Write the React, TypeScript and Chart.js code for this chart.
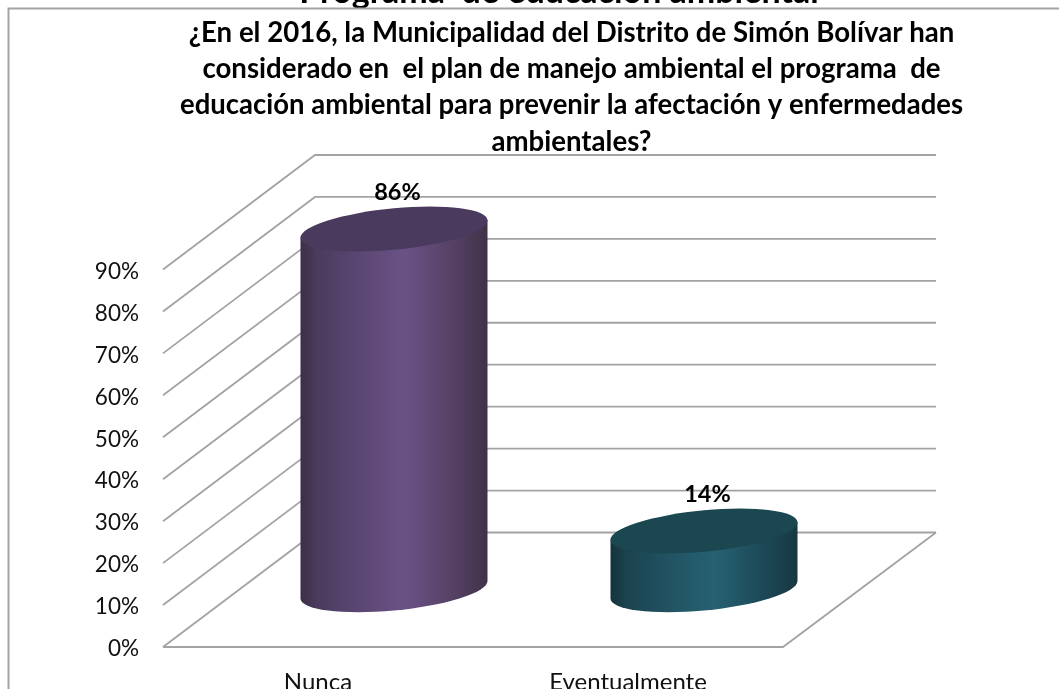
import React, { useEffect, useRef } from "react";
import { Chart, registerables } from "chart.js";

Chart.register(...registerables);

const categories = ["Nunca", "Eventualmente"];
const values = [86, 14];
const headerText = "Programa  de educación ambiental";
const questionLines = [
  "¿En el 2016, la Municipalidad del Distrito de Simón Bolívar han",
  "considerado en  el plan de manejo ambiental el programa  de",
  "educación ambiental para prevenir la afectación y enfermedades",
  "ambientales?",
];
const FONT = "Lato, Carlito, Calibri, sans-serif";
const GRID = "#a3a3a3";
const DEPTH_X = 152;
const DEPTH_Y = 114.5;
const gradients = [
  [[0, "#3b2f47"], [0.08, "#4a3a5c"], [0.3, "#5a4672"], [0.56, "#6a5286"], [0.8, "#574266"], [0.96, "#45364f"], [1, "#3c3245"]],
  [[0, "#15333c"], [0.08, "#1b424d"], [0.3, "#215262"], [0.56, "#276172"], [0.8, "#1d4a58"], [0.96, "#183c46"], [1, "#173640"]],
];
const topColors = ["#4a3a5e", "#1b4751"];

const scene = {
  id: "scene",
  afterLayout(chart: any) {
    // Title blocks are centred on the page's own optical centre, not the plot's.
    const centres = [571.5, 559];
    let i = 0;
    for (const box of chart.boxes) {
      if (box.options && box.options.text !== undefined && box.isHorizontal && !box.getTicks) {
        const c = centres[i++] ?? 559;
        const dx = c - (box.left + box.right) / 2;
        box.left += dx;
        box.right += dx;
      }
    }
  },
  beforeDatasetsDraw(chart: any) {
    const { ctx, chartArea, scales } = chart;
    const { left, right, bottom } = chartArea;
    ctx.save();
    // outer frame
    ctx.strokeStyle = "#a3a3a3";
    ctx.lineWidth = 2;
    ctx.beginPath();
    ctx.moveTo(8.5, 689);
    ctx.lineTo(8.5, 8.5);
    ctx.lineTo(1059, 8.5);
    ctx.stroke();
    // walls and floor
    ctx.strokeStyle = GRID;
    ctx.lineWidth = 1.8;
    for (const t of scales.y.ticks) {
      const y = scales.y.getPixelForValue(t.value);
      ctx.beginPath();
      ctx.moveTo(left, y);
      ctx.lineTo(left + DEPTH_X, y - DEPTH_Y);
      ctx.lineTo(right + DEPTH_X + 1, y - DEPTH_Y);
      ctx.stroke();
    }
    ctx.beginPath();
    ctx.moveTo(left, bottom);
    ctx.lineTo(right, bottom);
    ctx.lineTo(right + DEPTH_X + 1, bottom - DEPTH_Y);
    ctx.stroke();
    ctx.restore();
  },
  afterDatasetsDraw(chart: any) {
    const { ctx } = chart;
    const meta = chart.getDatasetMeta(0);
    meta.data.forEach((bar: any, i: number) => {
      const cx = bar.x + DEPTH_X / 2;
      const topY = bar.y - DEPTH_Y / 2;
      const botY = bar.base - DEPTH_Y / 2;
      const a = bar.width / 2;
      const b = 20.75;
      const shear = -8.7 / 93.5;
      ctx.save();
      ctx.transform(1, shear, 0, 1, cx, 0);
      const g = ctx.createLinearGradient(-a, 0, a, 0);
      gradients[i].forEach(([s, c]: any) => g.addColorStop(s, c));
      ctx.fillStyle = g;
      ctx.beginPath();
      ctx.moveTo(-a, topY);
      ctx.lineTo(-a, botY);
      ctx.ellipse(0, botY, a, b, 0, Math.PI, 0, true);
      ctx.lineTo(a, topY);
      ctx.closePath();
      ctx.fill();
      ctx.fillStyle = topColors[i];
      ctx.beginPath();
      ctx.ellipse(0, topY, a, b, 0, 0, Math.PI * 2);
      ctx.fill();
      ctx.restore();

      ctx.save();
      ctx.fillStyle = "#000";
      ctx.font = `bold 23.5px ${FONT}`;
      ctx.textAlign = "center";
      ctx.textBaseline = "middle";
      ctx.fillText(`${values[i]}%`, cx + 3.5, topY - 36.5);
      ctx.restore();
    });
  },
};

export default function App() {
  const ref = useRef<HTMLCanvasElement>(null);
  useEffect(() => {
    document.body.style.margin = "0";
    document.body.style.background = "#fff";
    const chart = new Chart(ref.current as HTMLCanvasElement, {
      type: "bar",
      data: {
        labels: categories,
        datasets: [
          {
            data: values,
            backgroundColor: "transparent",
            borderWidth: 0,
            barThickness: 187,
          },
        ],
      },
      plugins: [scene],
      options: {
        responsive: false,
        animation: false,
        maintainAspectRatio: false,
        layout: { padding: { left: 0, right: 276, top: 0, bottom: 0 } },
        plugins: {
          legend: { display: false },
          tooltip: { enabled: false },
          title: {
            display: true,
            text: headerText,
            color: "#000",
            font: { family: FONT, size: 34, weight: "bold", lineHeight: 1.2 },
            padding: { top: -28.4, bottom: 0 },
          },
          subtitle: {
            display: true,
            text: questionLines,
            color: "#000",
            font: { family: FONT, size: 27.6, weight: "bold", lineHeight: 1.315 },
            padding: { top: 2.4, bottom: 109.5 },
          },
        },
        scales: {
          x: {
            grid: { display: false, drawTicks: false },
            border: { display: false },
            ticks: { color: "#111", font: { family: FONT, size: 24 }, padding: 21, maxRotation: 0 },
            afterFit: (s: any) => {
              s.height = 42;
            },
          },
          y: {
            min: 0,
            max: 90,
            grid: { display: false, drawTicks: false },
            border: { display: false },
            ticks: {
              stepSize: 10,
              color: "#111",
              font: { family: FONT, size: 22.5 },
              padding: 24,
              labelOffset: 2,
              callback: (v: any) => `${v}%`,
            },
            afterFit: (s: any) => {
              s.width = 163;
            },
          },
        },
      },
    } as any);
    return () => chart.destroy();
  }, []);
  return <canvas ref={ref} width={1059} height={689} style={{ display: "block" }} />;
}
